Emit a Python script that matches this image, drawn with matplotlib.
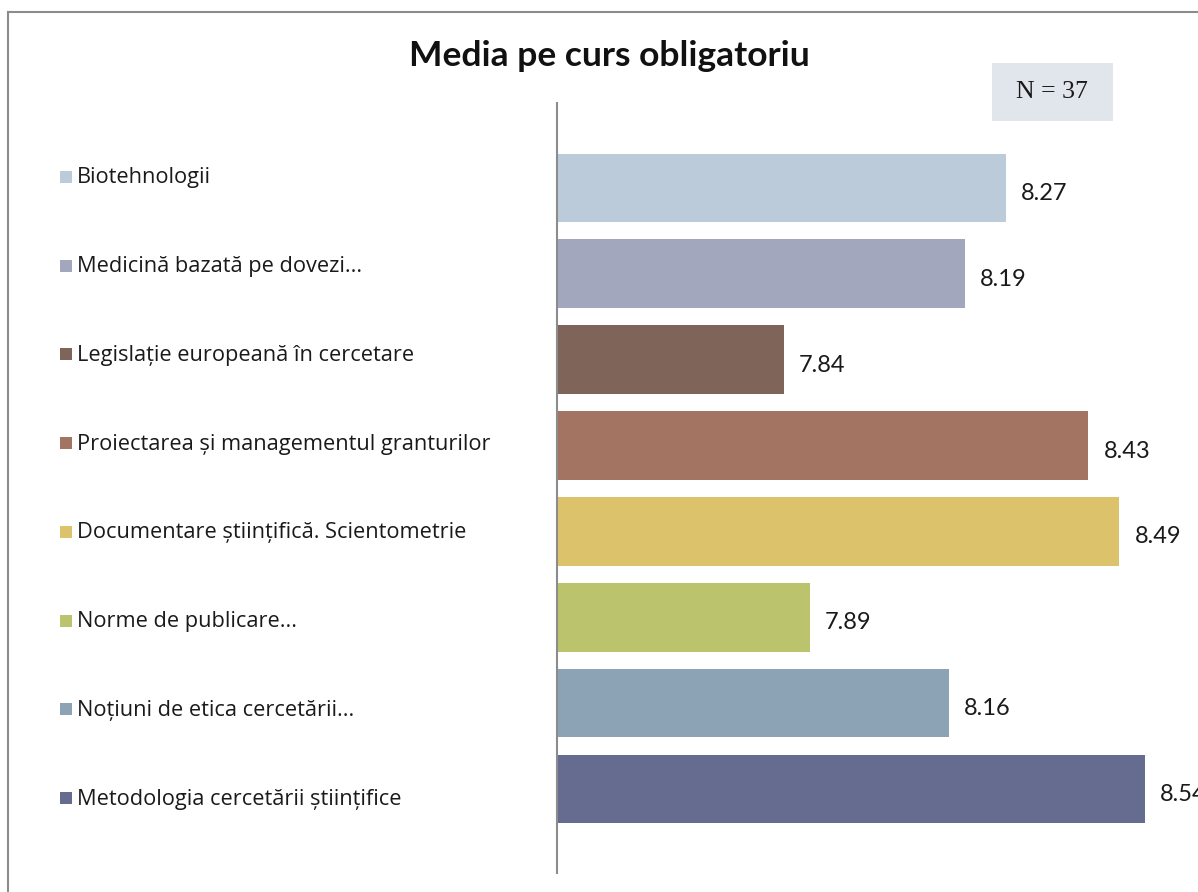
import numpy as np
import matplotlib
matplotlib.use("Agg")
import matplotlib.pyplot as plt
from matplotlib.patches import Rectangle
from matplotlib.lines import Line2D

categories = [
    "Biotehnologii",
    "Medicină bazată pe dovezi...",
    "Legislație europeană în cercetare",
    "Proiectarea și managementul granturilor",
    "Documentare științifică. Scientometrie",
    "Norme de publicare...",
    "Noțiuni de etica cercetării...",
    "Metodologia cercetării științifice",
]
values = [8.27, 8.19, 7.84, 8.43, 8.49, 7.89, 8.16, 8.54]
value_labels = ["8.27", "8.19", "7.84", "8.43", "8.49", "7.89", "8.16", "8.54"]
colors = ["#BCCBDA", "#A3A7BD", "#7F645A", "#A37462",
          "#DCC36B", "#BBC36D", "#8CA3B6", "#666C8F"]
title = "Media pe curs obligatoriu"
n_text = "N = 37"

W, H = 1198, 892
fig = plt.figure(figsize=(W / 100, H / 100), dpi=100)
fig.patch.set_facecolor("white")

def px(x, y):
    return x / W, 1 - y / H

# axes: x from 557 to 1176 px, y from 103 to 873 px
ax = fig.add_axes([557 / W, 1 - 873 / H, (1176 - 557) / W, (873 - 103) / H])
ypos = np.arange(len(categories))
ax.barh(ypos, np.array(values) - 7.4, left=7.4, height=0.8, color=colors, zorder=2)
ax.set_xlim(7.4, 8.6)
ax.set_ylim(7.98, -0.99)
for s in ["top", "right", "bottom"]:
    ax.spines[s].set_visible(False)
ax.spines["left"].set_color("#8C8C8C")
ax.spines["left"].set_linewidth(1.5)
ax.set_xticks([])
ax.set_yticks([])
ax.patch.set_alpha(0)

for i, (v, lab) in enumerate(zip(values, value_labels)):
    ax.annotate(lab, xy=(v, i), xytext=(11, -4), textcoords="offset points",
                ha="left", va="center", fontsize=17, family="Lato",
                color="#1a1a1a", annotation_clip=False, clip_on=False)

# legend (manual)
leg_y = np.linspace(177, 798, len(categories))
for i, (cat, c) in enumerate(zip(categories, colors)):
    x0, y0 = px(60, leg_y[i] + 6)
    fig.patches.append(Rectangle((x0, y0), 12 / W, 12 / H, transform=fig.transFigure,
                                 facecolor=c, edgecolor="none"))
    tx, ty = px(77, leg_y[i] + 1)
    fig.text(tx, ty, cat, ha="left", va="center", fontsize=15.7, family="Open Sans",
             color="#1a1a1a")

# title
tx, ty = px(609, 56)
fig.text(tx, ty, title, ha="center", va="center", fontsize=25.5, family="Lato",
         fontweight="bold", color="#111111")

# N box
bx, by = px(992, 121)
fig.patches.append(Rectangle((bx, by), (1113 - 992) / W, (121 - 63) / H,
                             transform=fig.transFigure, facecolor="#E1E5EC",
                             edgecolor="none"))
nx, ny = px(1052, 92)
fig.text(nx, ny, n_text, ha="center", va="center", fontsize=18.5,
         family="Liberation Serif", color="#1a1a1a")

# outer frame (left and top visible)
fig.add_artist(Line2D([8 / W, 8 / W], [0, 1 - 12 / H], transform=fig.transFigure,
                      color="#8C8C8C", lw=1.5))
fig.add_artist(Line2D([8 / W, 1], [1 - 12 / H, 1 - 12 / H], transform=fig.transFigure,
                      color="#8C8C8C", lw=1.5))

fig.savefig("out.png", dpi=100)
